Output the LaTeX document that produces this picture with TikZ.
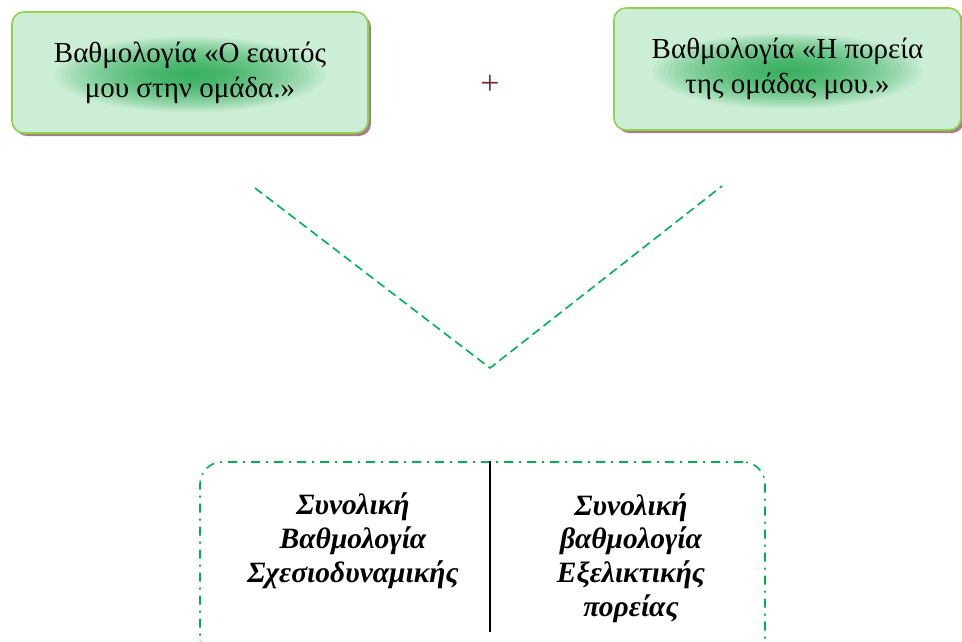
\documentclass[tikz,border=0pt]{standalone}
\usepackage{fontspec}
\setmainfont{Liberation Serif}
\usetikzlibrary{positioning, shadows}

\definecolor{boxgreen}{RGB}{146,208,80}
\definecolor{mint}{RGB}{204,238,214}
\definecolor{glow}{RGB}{20,165,70}
\definecolor{dashgreen}{RGB}{0,176,80}
\definecolor{plusred}{RGB}{118,42,42}
\definecolor{shadowbrown}{RGB}{165,130,130}

\tikzset{
  topbox/.style={draw=boxgreen, line width=1.6pt, rounded corners=12pt,
    fill=mint, align=center, font=\fontsize{29}{35}\selectfont,
    drop shadow={shadow xshift=3pt, shadow yshift=-3pt, fill=shadowbrown, opacity=1},
    path picture={\foreach \i in {1,...,26}
      \fill[glow, opacity=0.055] ([yshift=-2pt]path picture bounding box.center)
        ellipse ({5.2*\i pt} and {1.45*\i pt});}},
  vline/.style={dashgreen, line width=1.6pt, dash pattern=on 9pt off 5pt},
  totalbox/.style={draw=dashgreen, line width=1.6pt, rounded corners=22pt,
    dash pattern=on 9pt off 6pt on 2pt off 6pt},
  totaltext/.style={align=center, font=\fontsize{29.5}{33.8}\selectfont\bfseries\itshape}
}

\begin{document}
\begin{tikzpicture}[x=1pt, y=-1pt]
        \clip (0,0) rectangle (962,641);
        % top boxes
        \node[topbox, minimum width=356pt, minimum height=121pt] (own) at (190,72.5)
            {Βαθμολογία «Ο εαυτός\\μου στην ομάδα.»};
        \node[topbox, minimum width=347pt, minimum height=122pt] (course) at (787.5,69)
            {Βαθμολογία «Η πορεία\\της ομάδας μου.»};
        \node[text=plusred, font=\fontsize{34}{38}\selectfont] (plus) at (490,85) {+};
        % the V
        \coordinate (vleft) at (255,188);
        \coordinate (vtip) at (490,368);
        \coordinate (vright) at (722,186);
        \draw[vline] (vleft) -- (vtip) -- (vright);
        % bottom box
        \node[totalbox, minimum width=565pt, minimum height=200pt] (total) at (482.5,562) {};
        \coordinate (divend) at (490,632);
        \draw[line width=1.4pt] (total.north -| divend) -- (divend);
        \node[totaltext] (relational) at (353,541) {Συνολική\\Βαθμολογία\\Σχεσιοδυναμικής};
        \node[totaltext] (evolution) at (631,558) {Συνολική\\βαθμολογία\\Εξελικτικής\\πορείας};
\end{tikzpicture}
\end{document}
